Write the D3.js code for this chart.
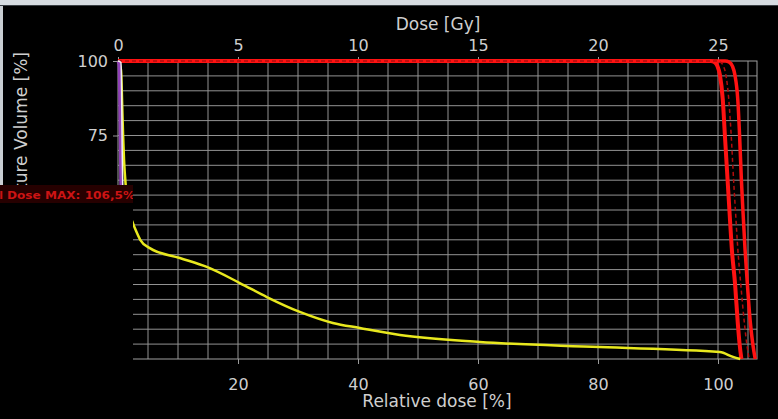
<!DOCTYPE html>
<html>
<head>
<meta charset="utf-8">
<title>DVH</title>
<script src="https://d3js.org/d3.v7.min.js"></script>
<style>
body { margin: 0; background: #000; }
svg { display: block; }
.axis text { fill: #cfcfcf; font-family: "DejaVu Sans", sans-serif; font-size: 16px; }
.axis path { display: none; }
.axis line { stroke: #9a9a9a; }
.title { fill: #cfcfcf; font-family: "DejaVu Sans", sans-serif; font-size: 17px; }
</style>
</head>
<body>
<svg class="chart"></svg>
<script>
// tick values
var doseTicksGy = [0, 5, 10, 15, 20, 25];
var relDoseTicks = [20, 40, 60, 80, 100];
var volumeTicks = [0, 25, 50, 75, 100];
var prescribedGy = 25;      // 100 % relative dose
var maxRelDose = 106.5;     // right end of the plot

// cumulative DVH curves: [relative dose %, volume %]
var ptvMain = [[0,100],[98.8,100],[99.4,99.6],[99.9,98.3],[100.3,95.5],[100.8,87],[101.15,75],[101.6,60],[101.9,50],[102.3,37],[102.85,25],[103.3,12],[103.6,5],[103.9,0]];
var ptvBoost = [[0,100],[101.2,100],[101.9,99.6],[102.4,98.3],[102.8,95.5],[103.3,87],[103.6,75],[103.9,60],[104.15,50],[104.5,37],[104.9,25],[105.4,12],[105.8,5],[106.2,0]];
var ptvDashed = [[0,100],[99.8,100],[100.4,99.6],[100.9,98.3],[101.3,95.5],[101.8,87],[102.2,75],[102.6,60],[102.9,50],[103.3,37],[103.8,25],[104.4,12],[104.8,5],[105.2,0]];
var bodyCurve = [[0,100],[0.5,97],[0.7,85],[0.85,75],[1.0,67],[1.3,58],[1.8,50],[2.5,45.5],[3.0,43],[3.7,40],[5.3,37.2],[10.3,33.9],[14.8,30.9],[20.3,25.5],[24.8,20.8],[30.3,15.8],[35.8,12.1],[40.3,10.4],[47,8.05],[60.3,5.7],[80.3,4.0],[100.3,2.35],[102.5,0.7],[103.7,0]];
var oarPurple = [[0,100],[0.2,99],[0.35,85],[0.5,60],[0.8,35],[1.2,12],[1.6,0]];
var oarWhite = [[0,100],[0.5,99.5],[0.6,90],[0.7,70],[0.9,45],[1.2,20],[1.6,5],[2,0]];

var W = 778, H = 419;
var margin = {top: 61, left: 118};
var width = 639, height = 298;

var svg = d3.select(".chart").attr("width", W).attr("height", H);
svg.append("rect").attr("width", W).attr("height", H).attr("fill", "#000");

// window chrome at top and left
svg.append("rect").attr("x", 0).attr("y", 0).attr("width", W).attr("height", 5).attr("fill", "#d7dce1");
svg.append("rect").attr("x", 0).attr("y", 5).attr("width", W).attr("height", 1).attr("fill", "#3a3f44");
svg.append("rect").attr("x", 0).attr("y", 6).attr("width", 3).attr("height", 180).attr("fill", "#c9ced3");

var chart = svg.append("g").attr("transform", "translate(" + margin.left + "," + margin.top + ")");

var x = d3.scaleLinear().domain([0, maxRelDose]).range([0, width]);
var xGy = d3.scaleLinear().domain([0, maxRelDose * prescribedGy / 100]).range([0, width]);
var y = d3.scaleLinear().domain([0, 100]).range([height, 0]);

// grid
chart.selectAll(".vgrid").data(d3.range(5, maxRelDose, 5)).enter().append("line")
	.attr("x1", function(d){ return x(d); }).attr("x2", function(d){ return x(d); })
	.attr("y1", 0).attr("y2", height)
	.attr("stroke", "#939393").attr("stroke-width", 1);
chart.selectAll(".hgrid").data(d3.range(5, 100, 5)).enter().append("line")
	.attr("x1", 0).attr("x2", width)
	.attr("y1", function(d){ return y(d); }).attr("y2", function(d){ return y(d); })
	.attr("stroke", "#939393").attr("stroke-width", 1);
chart.append("rect").attr("width", width).attr("height", height)
	.attr("fill", "none").attr("stroke", "#a0a0a0").attr("stroke-width", 1);

// axes
chart.append("g").attr("class", "axis")
	.call(d3.axisTop(xGy).tickValues(doseTicksGy).tickSize(4).tickPadding(6).tickFormat(d3.format("d")));
chart.append("g").attr("class", "axis")
	.attr("transform", "translate(0," + height + ")")
	.call(d3.axisBottom(x).tickValues(relDoseTicks).tickSize(5).tickPadding(15).tickFormat(d3.format("d")));
chart.append("g").attr("class", "axis")
	.call(d3.axisLeft(y).tickValues(volumeTicks).tickSize(5).tickPadding(5).tickFormat(d3.format("d")));

svg.append("text").attr("class", "title").attr("x", 438).attr("y", 30).attr("text-anchor", "middle")
	.text("Dose [Gy]");
svg.append("text").attr("class", "title").attr("x", 437).attr("y", 407).attr("text-anchor", "middle")
	.text("Relative dose [%]");
svg.append("text").attr("class", "title").attr("transform", "translate(27,52) rotate(-90)").attr("text-anchor", "end")
	.text("Structure Volume [%]");

// curves
var line = d3.line()
	.x(function(d){ return x(d[0]); })
	.y(function(d){ return y(d[1]); })
	.curve(d3.curveMonotoneX);

function drawCurve(data, color, w, dash){
	chart.append("path").datum(data)
		.attr("d", line)
		.attr("fill", "none")
		.attr("stroke", color)
		.attr("stroke-width", w)
		.attr("stroke-dasharray", dash || null)
		.attr("stroke-linejoin", "round");
}

drawCurve(ptvBoost, "#ff1212", 3.5);
drawCurve(ptvMain, "#ff1212", 4);
drawCurve(ptvDashed, "#b00c0c", 1.5, "4,3");
drawCurve(bodyCurve, "#e8e81e", 2.5);
drawCurve(oarPurple, "#9040b8", 3.5);
drawCurve(oarWhite, "#f2f2f2", 1.5);

// overlay box covering lower left
svg.append("clipPath").attr("id", "ovclip").append("rect")
	.attr("x", 0).attr("y", 185).attr("width", 133).attr("height", 18);
svg.append("rect").attr("x", 0).attr("y", 185).attr("width", 133).attr("height", H - 185).attr("fill", "#000");
svg.append("rect").attr("x", 0).attr("y", 185).attr("width", 133).attr("height", 18).attr("fill", "#260000");
var ov = svg.append("g").attr("clip-path", "url(#ovclip)")
	.style("font-family", "DejaVu Sans").style("font-size", "11px").style("font-weight", "bold")
	.attr("fill", "#cc1414");
ov.append("text").attr("x", 3).attr("y", 199).attr("text-anchor", "end").text("Total");
ov.append("text").attr("x", 7).attr("y", 199)
	.attr("textLength", 128).attr("lengthAdjust", "spacingAndGlyphs")
	.text("Dose MAX: 106,5%");
</script>
</body>
</html>
